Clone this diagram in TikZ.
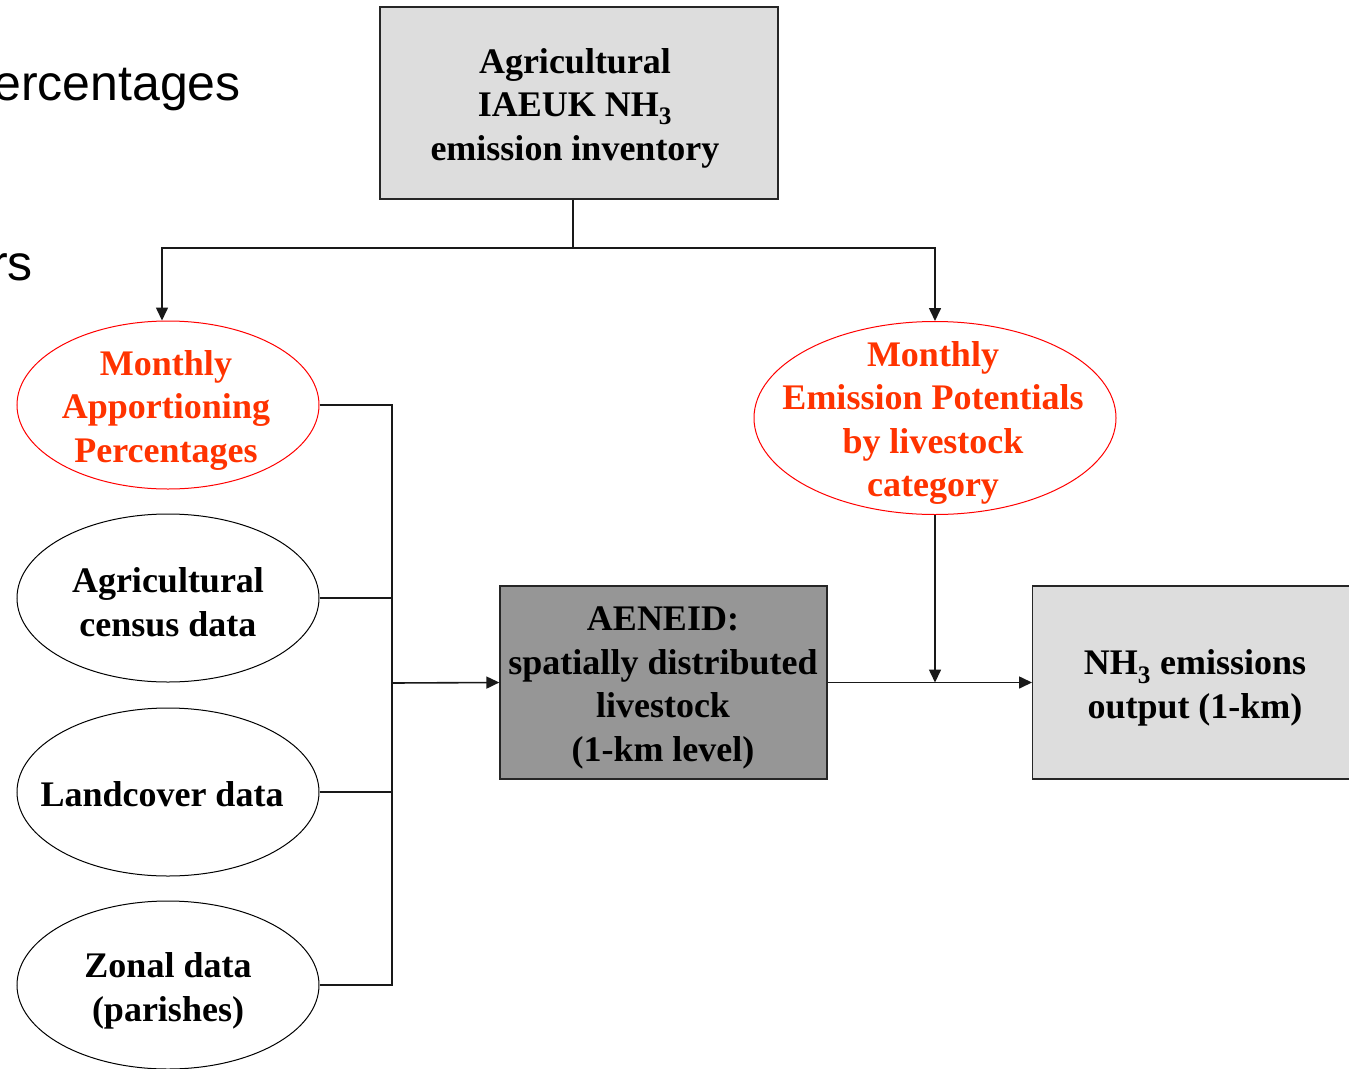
\documentclass[tikz,border=0pt]{standalone}
\usepackage{fontspec}
\setmainfont{Liberation Serif}
\setsansfont{Liberation Sans}
\usetikzlibrary{shapes.geometric,arrows.meta,calc}
\definecolor{boxgray}{HTML}{DDDDDD}
\definecolor{aengray}{HTML}{969696}
\definecolor{txtred}{HTML}{FF3300}
\definecolor{lnred}{HTML}{FF0000}
\begin{document}
\begin{tikzpicture}[x=1pt,y=-1pt,
  box/.style={draw=black!85,line width=1.3pt,rectangle,inner sep=0pt},
  ell/.style={draw=black,line width=1pt,ellipse,inner sep=0pt,minimum width=302pt,minimum height=168pt},
  redell/.style={ell,draw=lnred},
  lbl/.style={font=\fontsize{36}{43.5}\selectfont\bfseries,align=center,inner sep=0pt},
  conn/.style={line width=1.6pt,black!90},
  arr/.style={conn,-{Triangle[length=13pt,width=12pt]}},
  bg/.style={font=\sffamily\fontsize{50}{60}\selectfont,inner sep=0pt}]
\clip (0,0) rectangle (1349,1068);
\fill[white] (0,0) rectangle (1349,1068);
% background slide text (cut off)
\node[bg,anchor=base east] (bg1) at (241,100) {ercentages};
\node[bg,anchor=base east] (bg2) at (33,280) {rs};
% boxes
\node[box,fill=boxgray,minimum width=398pt,minimum height=192pt] (inv) at (579,103) {};
\node[lbl] (invt) at (575,108) {Agricultural\\IAEUK NH\textsubscript{3}\\emission inventory};
\node[box,fill=aengray,minimum width=327pt,minimum height=193pt] (aen) at (663.5,682.5) {};
\node[lbl] (aent) at (663,688) {AENEID:\\spatially distributed\\livestock\\(1-km level)};
\node[box,fill=boxgray,minimum width=320pt,minimum height=193pt,anchor=west] (out) at (1032,682.5) {};
\node[lbl] (outt) at (1195,688) {NH\textsubscript{3} emissions\\output (1-km)};
% ellipses
\node[redell] (mon) at (168,405) {};
\node[lbl,text=txtred] (mont) at (166,410) {Monthly\\Apportioning\\Percentages};
\node[ell] (cen) at (168,598) {};
\node[lbl] (cent) at (168,602) {Agricultural\\census data};
\node[ell] (land) at (168,792) {};
\node[lbl] (landt) at (162,794) {Landcover data};
\node[ell] (zone) at (168,985) {};
\node[lbl] (zonet) at (168,991) {Zonal data\\(parishes)};
\node[redell,minimum width=362pt,minimum height=193pt] (pot) at (935,418) {};
\node[lbl,text=txtred] (pott) at (933,423) {Monthly\\Emission Potentials\\by livestock\\category};
% connectors
\coordinate (split) at (573,248);
\coordinate (bus) at (392,683);
\draw[conn] (inv.south -| split) -- (split);
\draw[arr] (split) -| ([xshift=-6pt]mon.north);
\draw[arr] (split) -| (pot.north);
\draw[conn] (mon.east) -- (mon.east -| bus) -- (zone.east -| bus) -- (zone.east);
\draw[conn] (cen.east) -- (cen.east -| bus);
\draw[conn] (land.east) -- (land.east -| bus);
\draw[arr] (bus) -- (aen.west);
\draw[arr] (aen.east) -- (out.west);
\draw[arr] (pot.south) -- (pot.south |- aen.east);
\end{tikzpicture}
\end{document}
